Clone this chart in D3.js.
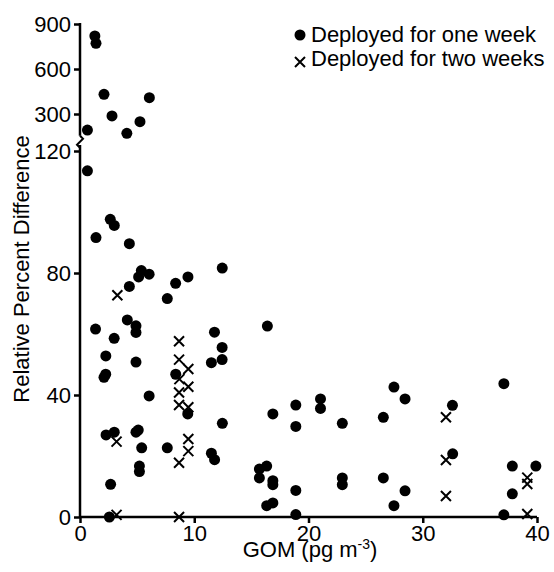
<!DOCTYPE html>
<html>
<head>
<meta charset="utf-8">
<script src="https://cdn.jsdelivr.net/npm/d3@7"></script>
<style>
  body { margin: 0; background: #fff; }
  text { font-family: "Liberation Sans", Arial, sans-serif; fill: #000; }
</style>
</head>
<body>
<div id="chart"></div>
<script>
// one-week deployments [GOM, RPD]
var oneWeek = [
  [1.3, 820], [1.4, 771], [2.1, 431], [2.8, 287], [0.65, 193], [4.1, 171], [5.25, 249], [6.07, 409],
  [0.65, 113.5], [2.65, 97.6], [3.0, 95.6], [1.4, 91.6], [4.32, 89.6], [5.37, 80.8], [5.13, 78.7],
  [6.05, 79.6], [9.45, 78.7], [4.32, 75.6], [8.37, 76.6], [7.64, 71.6], [12.45, 81.6], [1.36, 61.6],
  [4.14, 64.6], [4.9, 62.7], [4.9, 60.5], [2.99, 58.6], [11.77, 60.6], [12.44, 55.6], [12.44, 51.6],
  [11.5, 50.6], [2.26, 52.8], [4.9, 50.8], [2.1, 45.8], [2.25, 46.8], [8.38, 46.8], [6.05, 39.7],
  [9.43, 33.8], [2.28, 26.9], [3.0, 27.8], [4.9, 27.8], [5.1, 28.5], [5.4, 22.7], [7.64, 22.7],
  [5.2, 16.7], [5.2, 14.9], [2.68, 10.7], [2.57, 0], [11.5, 20.9], [11.78, 18.8], [12.46, 30.7],
  [16.4, 62.6], [16.88, 33.8], [18.89, 36.7], [18.89, 29.7], [21.05, 38.7], [21.05, 35.6], [22.96, 30.7],
  [15.7, 15.7], [16.34, 16.7], [15.7, 12.8], [16.88, 11.9], [16.88, 10.6], [18.89, 8.7], [16.34, 3.7],
  [16.88, 4.6], [18.89, 0.8], [22.96, 12.8], [22.96, 10.6], [26.55, 32.7], [27.48, 42.6], [28.45, 38.7],
  [32.6, 36.6], [37.1, 43.7], [32.62, 20.7], [26.55, 12.8], [28.45, 8.6], [27.48, 3.7], [37.84, 16.7],
  [39.9, 16.7], [37.84, 7.6], [37.1, 0.7]
];
// two-week deployments [GOM, RPD]
var twoWeeks = [
  [3.27, 72.7], [8.67, 57.6], [8.67, 51.6], [9.48, 48.5], [8.7, 45.2], [9.48, 42.7], [8.67, 40.8],
  [8.67, 36.7], [9.48, 36.0], [9.48, 25.6], [9.48, 21.6], [8.67, 17.8], [8.67, 0], [3.2, 24.7],
  [3.2, 0.7], [32.03, 32.7], [32.03, 18.7], [32.03, 6.9], [39.15, 12.9], [39.15, 10.8], [39.15, 1.0]
];
var xTicks = [0, 10, 20, 30, 40];
var yLowTicks = [0, 40, 80, 120];
var yHighTicks = [300, 600, 900];
var legendLabels = ["Deployed for one week", "Deployed for two weeks"];

var W = 554, H = 572;
var svg = d3.select("#chart").append("svg").attr("width", W).attr("height", H);

var x = d3.scaleLinear().domain([0, 40]).range([80, 537]);
var yLow = d3.scaleLinear().domain([0, 120]).range([517, 151]);
var yHigh = d3.scaleLinear().domain([300, 900]).range([114, 24]);
function yv(v) { return v > 125 ? yHigh(v) : yLow(v); }

// axes
function styleAxis(g) {
  g.select(".domain").remove();
  g.selectAll(".tick line").attr("stroke", "#000").attr("stroke-width", 2.5);
  g.selectAll(".tick text").style("font-size", "22px").style("font-family", "'Liberation Sans', Arial, sans-serif");
}
svg.append("g").attr("transform", "translate(" + x(0) + ",0)")
  .call(d3.axisLeft(yLow).tickValues(yLowTicks).tickSize(6).tickPadding(3))
  .call(styleAxis);
svg.append("g").attr("transform", "translate(" + x(0) + ",0)")
  .call(d3.axisLeft(yHigh).tickValues(yHighTicks).tickSize(6).tickPadding(3))
  .call(styleAxis);
svg.append("g").attr("transform", "translate(0," + yLow(0) + ")")
  .call(d3.axisBottom(x).tickValues(xTicks).tickSize(6).tickPadding(2))
  .call(styleAxis);

var ax = svg.append("g").attr("stroke", "#000").attr("stroke-width", 2.5).attr("fill", "none");
ax.append("line").attr("x1", x(0)).attr("x2", x(40)).attr("y1", yLow(0)).attr("y2", yLow(0));
ax.append("line").attr("x1", x(0)).attr("x2", x(0)).attr("y1", yLow(0)).attr("y2", yLow(122));
ax.append("line").attr("x1", x(0)).attr("x2", x(0)).attr("y1", yHigh(900) - 1).attr("y2", yHigh(155));
// axis break
ax.append("path").attr("stroke-width", 2)
  .attr("d", "M" + x(0) + "," + yHigh(155) + "l3,3l-6,6l3,3");

// points
svg.append("g").selectAll("circle").data(oneWeek).join("circle")
  .attr("cx", function(d) { return x(d[0]); })
  .attr("cy", function(d) { return yv(d[1]); })
  .attr("r", 5.5).attr("fill", "#000");

var cs = 5;
svg.append("g").attr("stroke", "#000").attr("stroke-width", 2).selectAll("path").data(twoWeeks).join("path")
  .attr("d", function(d) {
    var cx = x(d[0]), cy = yv(d[1]);
    return "M" + (cx - cs) + "," + (cy - cs) + "L" + (cx + cs) + "," + (cy + cs) +
           "M" + (cx - cs) + "," + (cy + cs) + "L" + (cx + cs) + "," + (cy - cs);
  });

// titles
svg.append("text").attr("transform", "translate(29,269) rotate(-90)")
  .attr("text-anchor", "middle").style("font-size", "22px").text("Relative Percent Difference");
var xt = svg.append("text").attr("x", 310).attr("y", 557).attr("text-anchor", "middle").style("font-size", "22px");
xt.append("tspan").text("GOM (pg m");
xt.append("tspan").attr("dy", -8).style("font-size", "14px").text("-3");
xt.append("tspan").attr("dy", 8).text(")");

// legend
var lg = svg.append("g");
lg.append("circle").attr("cx", 300).attr("cy", 35).attr("r", 5.5).attr("fill", "#000");
lg.append("path").attr("stroke", "#000").attr("stroke-width", 2)
  .attr("d", "M295,57L305,67M295,67L305,57");
lg.selectAll("text").data(legendLabels).join("text")
  .attr("x", 311).attr("y", function(d, i) { return 42 + i * 24; })
  .style("font-size", "22px").text(function(d) { return d; });
</script>
</body>
</html>
